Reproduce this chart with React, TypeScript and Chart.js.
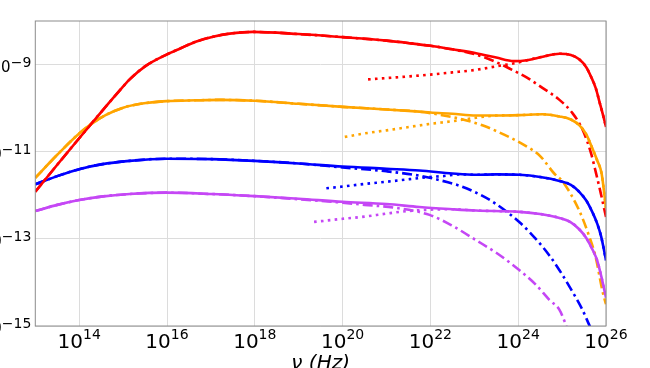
import React, { useEffect, useRef } from "react";
import { Chart, registerables } from "chart.js";

Chart.register(...registerables);

// log10(nu / Hz) and log10(flux)
const redSolidX = [13.0, 13.5, 14.0, 14.5, 14.85, 15.15, 15.5, 15.99, 16.3, 16.67, 17.05, 17.43, 17.96, 19.0, 20.0, 21.0, 21.53, 22.0, 22.5, 23.04, 23.5, 23.9, 24.2, 24.56, 24.94, 25.2, 25.39, 25.55, 25.66, 25.77, 25.85, 25.93, 26.0];
const redSolidY = [-11.92, -11.3, -10.69, -10.09, -9.68, -9.34, -9.04, -8.77, -8.63, -8.47, -8.36, -8.29, -8.25, -8.3, -8.37, -8.45, -8.51, -8.57, -8.65, -8.74, -8.84, -8.92, -8.9, -8.82, -8.75, -8.78, -8.88, -9.06, -9.28, -9.55, -9.85, -10.15, -10.43];

const redDashX = [13.0, 13.5, 14.0, 14.5, 14.85, 15.15, 15.5, 15.99, 16.3, 16.67, 17.05, 17.43, 17.96, 19.0, 20.0, 21.0, 21.53, 22.0, 22.5, 23.0, 23.4, 23.8, 24.2, 24.56, 24.94, 25.24, 25.47, 25.66, 25.77, 25.88, 26.0];
const redDashY = [-11.92, -11.3, -10.69, -10.09, -9.68, -9.34, -9.04, -8.77, -8.63, -8.47, -8.36, -8.29, -8.25, -8.3, -8.37, -8.45, -8.51, -8.57, -8.65, -8.76, -8.9, -9.09, -9.3, -9.54, -9.81, -10.12, -10.5, -11.04, -11.48, -11.95, -12.5];

const redDotX = [20.58, 21.0, 21.53, 22.0, 22.5, 23.04, 23.5, 23.8, 24.1, 24.2, 24.56, 24.94, 25.2, 25.39, 25.55, 25.66, 25.77, 25.85, 25.93, 26.0];
const redDotY = [-9.34, -9.31, -9.27, -9.23, -9.18, -9.12, -9.04, -8.99, -8.93, -8.9, -8.82, -8.75, -8.78, -8.88, -9.06, -9.28, -9.55, -9.85, -10.15, -10.43];

const orangeSolidX = [13.0, 13.5, 14.0, 14.28, 14.6, 15.0, 15.4, 15.99, 16.67, 17.2, 18.0, 19.0, 20.0, 21.0, 21.75, 22.0, 22.5, 23.04, 23.5, 24.03, 24.56, 24.94, 25.2, 25.39, 25.55, 25.7, 25.8, 25.9, 26.0];
const orangeSolidY = [-11.6, -11.07, -10.58, -10.36, -10.16, -9.99, -9.9, -9.84, -9.82, -9.81, -9.83, -9.9, -9.97, -10.03, -10.08, -10.1, -10.13, -10.17, -10.17, -10.16, -10.14, -10.19, -10.26, -10.39, -10.6, -10.95, -11.2, -11.5, -12.3];

const orangeDashX = [13.0, 13.5, 14.0, 14.28, 14.6, 15.0, 15.4, 15.99, 16.67, 17.2, 18.0, 19.0, 20.0, 21.0, 21.75, 22.2, 22.78, 23.2, 23.53, 24.14, 24.5, 24.82, 25.01, 25.39, 25.62, 25.76, 25.92, 26.0];
const orangeDashY = [-11.6, -11.07, -10.58, -10.36, -10.16, -9.99, -9.9, -9.84, -9.82, -9.81, -9.83, -9.9, -9.97, -10.03, -10.08, -10.15, -10.27, -10.4, -10.54, -10.85, -11.1, -11.5, -11.68, -12.35, -12.95, -13.4, -14.2, -14.5];

const orangeDotX = [20.05, 20.5, 21.0, 21.53, 22.0, 22.5, 23.04, 23.5, 24.03, 24.56, 24.94, 25.2, 25.39, 25.55, 25.7, 25.8, 25.9, 26.0];
const orangeDotY = [-10.66, -10.58, -10.51, -10.43, -10.36, -10.3, -10.22, -10.17, -10.16, -10.14, -10.19, -10.26, -10.39, -10.6, -10.95, -11.2, -11.5, -12.3];

const blueSolidX = [13.0, 13.5, 14.0, 14.5, 15.15, 15.99, 17.0, 18.0, 19.0, 20.0, 21.0, 21.75, 22.5, 23.04, 23.5, 24.03, 24.5, 24.94, 25.2, 25.39, 25.55, 25.7, 25.8, 25.89, 26.0];
const blueSolidY = [-11.75, -11.56, -11.4, -11.29, -11.21, -11.16, -11.17, -11.21, -11.27, -11.34, -11.39, -11.43, -11.5, -11.53, -11.52, -11.53, -11.58, -11.67, -11.76, -11.92, -12.12, -12.41, -12.65, -12.95, -13.49];

const blueDashX = [13.0, 13.5, 14.0, 14.5, 15.15, 15.99, 17.0, 18.0, 19.0, 20.0, 21.0, 21.75, 22.2, 22.66, 23.0, 23.42, 24.03, 24.4, 24.71, 24.94, 25.24, 25.45, 25.62, 25.7];
const blueDashY = [-11.75, -11.56, -11.4, -11.29, -11.21, -11.16, -11.17, -11.21, -11.27, -11.36, -11.45, -11.55, -11.65, -11.78, -11.92, -12.15, -12.62, -13.0, -13.38, -13.72, -14.22, -14.6, -14.98, -15.15];

const blueDotX = [19.63, 20.0, 20.5, 21.0, 21.53, 22.0, 22.28, 22.7, 23.04, 23.5, 24.03, 24.5, 24.94, 25.2, 25.39, 25.55, 25.7, 25.8, 25.89, 26.0];
const blueDotY = [-11.84, -11.8, -11.74, -11.69, -11.63, -11.58, -11.56, -11.52, -11.53, -11.52, -11.53, -11.58, -11.67, -11.76, -11.92, -12.12, -12.41, -12.65, -12.95, -13.49];

const purpleSolidX = [13.0, 13.5, 14.0, 14.5, 15.15, 15.99, 17.0, 18.0, 19.0, 20.0, 21.0, 21.75, 22.5, 23.04, 24.03, 24.5, 24.94, 25.2, 25.39, 25.55, 25.7, 25.8, 25.89, 26.0];
const purpleSolidY = [-12.36, -12.22, -12.11, -12.03, -11.97, -11.94, -11.97, -12.02, -12.08, -12.15, -12.2, -12.27, -12.32, -12.35, -12.38, -12.43, -12.52, -12.62, -12.78, -12.98, -13.26, -13.5, -13.85, -14.35];

const purpleDashX = [13.0, 13.5, 14.0, 14.5, 15.15, 15.99, 17.0, 18.0, 19.0, 19.5, 20.0, 20.5, 21.15, 21.98, 22.5, 23.04, 23.5, 24.03, 24.4, 24.71, 24.94, 25.1];
const purpleDashY = [-12.36, -12.22, -12.11, -12.03, -11.97, -11.94, -11.97, -12.02, -12.09, -12.13, -12.17, -12.22, -12.28, -12.45, -12.7, -13.03, -13.32, -13.72, -14.05, -14.4, -14.63, -15.0];

const purpleDotX = [19.35, 20.0, 20.5, 21.0, 21.5, 22.0, 22.5, 23.04, 24.03, 24.5, 24.94, 25.2, 25.39, 25.55, 25.7, 25.8, 25.89, 26.0];
const purpleDotY = [-12.61, -12.54, -12.49, -12.42, -12.36, -12.33, -12.32, -12.35, -12.38, -12.43, -12.52, -12.62, -12.78, -12.98, -13.26, -13.5, -13.85, -14.35];

const xTickExponents = [14, 16, 18, 20, 22, 24, 26];
const yTickExponents = [-15, -13, -11, -9];
const xAxisTitle = "ν (Hz)";

const RED = "#ff0000";
const ORANGE = "#ffa500";
const BLUE = "#0000ff";
const PURPLE = "#c547f5";

function pts(xs: number[], ys: number[]) {
  return xs.map((x, i) => ({ x, y: ys[i] }));
}

function sup(n: number) {
  return n < 0 ? "\u2212" + String(-n) : String(n);
}

const FONT = "'DejaVu Sans', sans-serif";

const labelPlugin = {
  id: "mplLabels",
  afterDraw(chart: any) {
    const ctx = chart.ctx as CanvasRenderingContext2D;
    const area = chart.chartArea;
    const xs = chart.scales.x;
    const ys = chart.scales.y;
    ctx.save();
    ctx.strokeStyle = "#8c8c8c";
    ctx.lineWidth = 1;
    ctx.strokeRect(area.left, area.top, area.right - area.left, area.bottom - area.top);
    ctx.fillStyle = "#000";
    ctx.textBaseline = "alphabetic";
    ctx.textAlign = "left";
    for (const e of xTickExponents) {
      const px = xs.getPixelForValue(e);
      ctx.font = `20px ${FONT}`;
      const w1 = ctx.measureText("10").width;
      ctx.font = `14px ${FONT}`;
      const s = sup(e);
      const w2 = ctx.measureText(s).width;
      const start = px - (w1 + w2) / 2;
      ctx.font = `20px ${FONT}`;
      ctx.fillText("10", start, area.bottom + 22);
      ctx.font = `14px ${FONT}`;
      ctx.fillText(s, start + w1, area.bottom + 13);
    }
    for (const e of yTickExponents) {
      const py = ys.getPixelForValue(e);
      const s = sup(e);
      ctx.font = `14px ${FONT}`;
      const w2 = ctx.measureText(s).width;
      ctx.font = `15px ${FONT}`;
      const w1 = ctx.measureText("10").width;
      const right = area.left - 4;
      ctx.fillText("10", right - w2 - w1, py + 7);
      ctx.font = `14px ${FONT}`;
      ctx.fillText(s, right - w2, py + 2);
    }
    ctx.font = `italic 20px ${FONT}`;
    ctx.textAlign = "center";
    ctx.fillText(xAxisTitle, (area.left + area.right) / 2, area.bottom + 43);
    ctx.restore();
  },
};

export default function App() {
  const ref = useRef<HTMLCanvasElement | null>(null);
  useEffect(() => {
    if (!ref.current) return;
    const solid = (data: any, color: string) => ({
      data,
      borderColor: color,
      borderWidth: 2.6,
      pointRadius: 0,
      fill: false,
      cubicInterpolationMode: "monotone" as const,
    });
    const dashdot = (data: any, color: string) => ({
      ...solid(data, color),
      borderDash: [10, 4, 2.6, 4],
    });
    const dotted = (data: any, color: string) => ({
      ...solid(data, color),
      borderDash: [2.6, 4.3],
    });
    const chart = new Chart(ref.current, {
      type: "line",
      data: {
        datasets: [
          solid(pts(redSolidX, redSolidY), RED),
          solid(pts(orangeSolidX, orangeSolidY), ORANGE),
          solid(pts(blueSolidX, blueSolidY), BLUE),
          solid(pts(purpleSolidX, purpleSolidY), PURPLE),
          dashdot(pts(redDashX, redDashY), RED),
          dashdot(pts(orangeDashX, orangeDashY), ORANGE),
          dashdot(pts(blueDashX, blueDashY), BLUE),
          dashdot(pts(purpleDashX, purpleDashY), PURPLE),
          dotted(pts(redDotX, redDotY), RED),
          dotted(pts(orangeDotX, orangeDotY), ORANGE),
          dotted(pts(blueDotX, blueDotY), BLUE),
          dotted(pts(purpleDotX, purpleDotY), PURPLE),
        ],
      },
      options: {
        responsive: false,
        maintainAspectRatio: false,
        animation: false,
        layout: { padding: { left: 35.3, right: 44, top: 21, bottom: 42 } },
        plugins: { legend: { display: false }, tooltip: { enabled: false } },
        scales: {
          x: {
            type: "linear",
            min: 13,
            max: 26,
            afterBuildTicks: (axis: any) => {
              axis.ticks = xTickExponents.map((v) => ({ value: v }));
            },
            ticks: { display: false },
            grid: { color: "#dcdcdc", lineWidth: 1, drawTicks: false },
            border: { display: false },
          },
          y: {
            type: "linear",
            min: -15,
            max: -8,
            afterBuildTicks: (axis: any) => {
              axis.ticks = yTickExponents.map((v) => ({ value: v }));
            },
            ticks: { display: false },
            grid: { color: "#dcdcdc", lineWidth: 1, drawTicks: false },
            border: { display: false },
          },
        },
      },
      plugins: [labelPlugin],
    });
    return () => chart.destroy();
  }, []);
  return (
    <div style={{ position: "fixed", left: 0, top: 0, width: 650, height: 368, background: "#fff" }}>
      <canvas ref={ref} width={650} height={368} style={{ display: "block", width: 650, height: 368 }} />
    </div>
  );
}
